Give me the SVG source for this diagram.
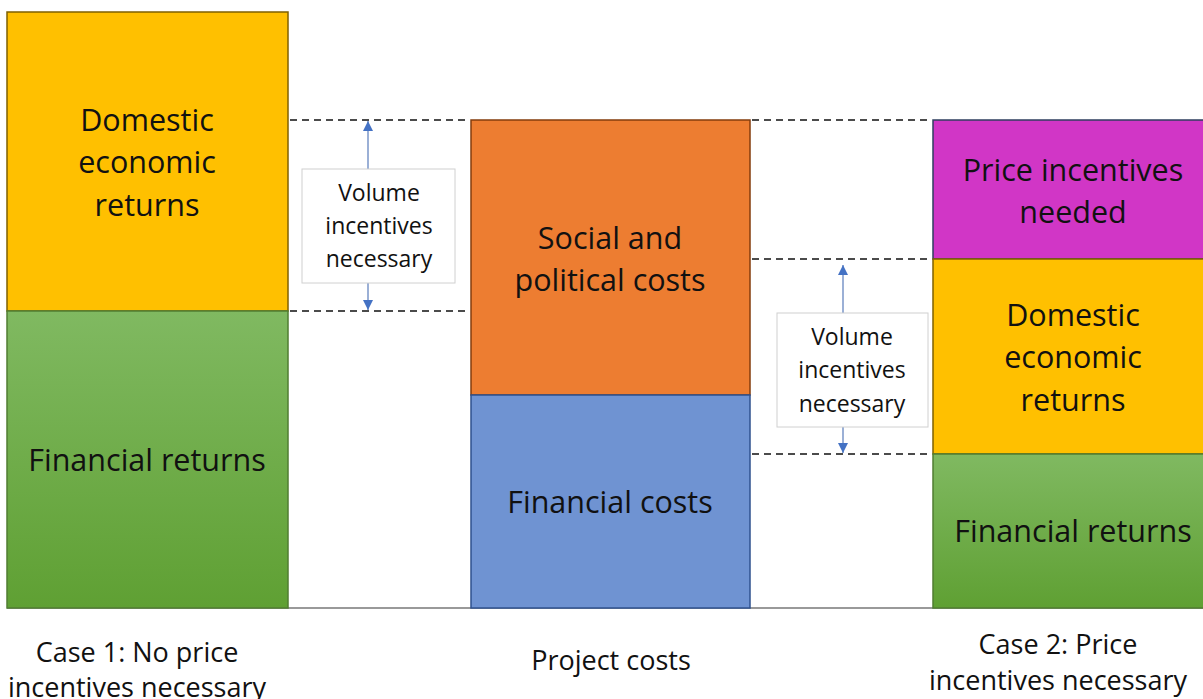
<svg xmlns="http://www.w3.org/2000/svg" width="1203" height="699" viewBox="0 0 1203 699">
<defs>
<linearGradient id="gGreen" x1="0" y1="0" x2="0" y2="1">
<stop offset="0" stop-color="#80B961"/>
<stop offset="1" stop-color="#5FA033"/>
</linearGradient>
<marker id="ah" viewBox="0 0 10 10" refX="10" refY="5" markerWidth="10" markerHeight="10" markerUnits="userSpaceOnUse" orient="auto">
<path d="M0,0 L10,5 L0,10 Z" fill="#4472C4"/>
</marker>
<style>
.lbl{font-family:"Open Sans","Noto Sans","Liberation Sans",sans-serif;font-size:30.5px;fill:#111;text-anchor:middle}
.sm{font-family:"Open Sans","Noto Sans","Liberation Sans",sans-serif;font-size:23px;fill:#111;text-anchor:middle}
.cap{font-family:"Open Sans","Noto Sans","Liberation Sans",sans-serif;font-size:27px;fill:#111;text-anchor:middle}
.yel{fill:#FFC000;stroke:#7F6000;stroke-width:1.5}
.grn{fill:url(#gGreen);stroke:#507E32;stroke-width:1.5}
.org{fill:#ED7D31;stroke:#843C0C;stroke-width:1.5}
.blu{fill:#6F93D2;stroke:#2F528F;stroke-width:1.5}
.pur{fill:#D136C6;stroke:#2F3F5F;stroke-width:1.5}
.dash{stroke:#111;stroke-width:1.6;stroke-dasharray:7 5;fill:none}
.arr{stroke:#7A96C8;stroke-width:1.5;fill:none;marker-end:url(#ah)}
.box{fill:#fff;stroke:#D0D0D0;stroke-width:1}
</style>
</defs>
<rect width="1203" height="699" fill="#fff"/>

<g id="connectors">
<line x1="7" y1="608" x2="1203" y2="608" stroke="#777" stroke-width="1.5"/>
<line class="dash" x1="290" y1="120" x2="470" y2="120"/>
<line class="dash" x1="290" y1="311" x2="470" y2="311"/>
<line class="dash" x1="752" y1="120" x2="932" y2="120"/>
<line class="dash" x1="752" y1="259" x2="932" y2="259"/>
<line class="dash" x1="752" y1="454" x2="932" y2="454"/>
<line class="arr" x1="368" y1="169" x2="368" y2="121"/>
<line class="arr" x1="368" y1="283" x2="368" y2="310"/>
<line class="arr" x1="843" y1="313" x2="843" y2="265"/>
<line class="arr" x1="843" y1="427" x2="843" y2="453"/>
</g>

<g id="case1-domestic">
<rect class="yel" x="7" y="12" width="281" height="299"/>
<text class="lbl" x="147" y="131">Domestic</text>
<text class="lbl" x="147" y="173">economic</text>
<text class="lbl" x="147" y="216">returns</text>
</g>
<g id="case1-financial">
<rect class="grn" x="7" y="311" width="281" height="297"/>
<text class="lbl" x="147" y="471">Financial returns</text>
</g>

<g id="volume1">
<rect class="box" x="302" y="169" width="153" height="114"/>
<text class="sm" x="379" y="201">Volume</text>
<text class="sm" x="379" y="234">incentives</text>
<text class="sm" x="379" y="267">necessary</text>
</g>

<g id="social-political">
<rect class="org" x="471" y="120" width="279" height="275"/>
<text class="lbl" x="610" y="249">Social and</text>
<text class="lbl" x="610" y="291">political costs</text>
</g>
<g id="financial-costs">
<rect class="blu" x="471" y="395" width="279" height="213"/>
<text class="lbl" x="610" y="513">Financial costs</text>
</g>

<g id="volume2">
<rect class="box" x="777" y="313" width="151" height="114"/>
<text class="sm" x="852" y="345">Volume</text>
<text class="sm" x="852" y="378">incentives</text>
<text class="sm" x="852" y="412">necessary</text>
</g>

<g id="price-incentives">
<rect class="pur" x="933" y="120" width="272" height="139"/>
<text class="lbl" x="1073" y="181">Price incentives</text>
<text class="lbl" x="1073" y="223">needed</text>
</g>
<g id="case2-domestic">
<rect class="yel" x="933" y="259" width="272" height="195"/>
<text class="lbl" x="1073" y="326">Domestic</text>
<text class="lbl" x="1073" y="368">economic</text>
<text class="lbl" x="1073" y="411">returns</text>
</g>
<g id="case2-financial">
<rect class="grn" x="933" y="454" width="272" height="154"/>
<text class="lbl" x="1073" y="542">Financial returns</text>
</g>

<g id="captions">
<text class="cap" x="137" y="662">Case 1: No price</text>
<text class="cap" x="137" y="697">incentives necessary</text>
<text class="cap" x="611" y="670">Project costs</text>
<text class="cap" x="1058" y="654">Case 2: Price</text>
<text class="cap" x="1058" y="690">incentives necessary</text>
</g>
</svg>
